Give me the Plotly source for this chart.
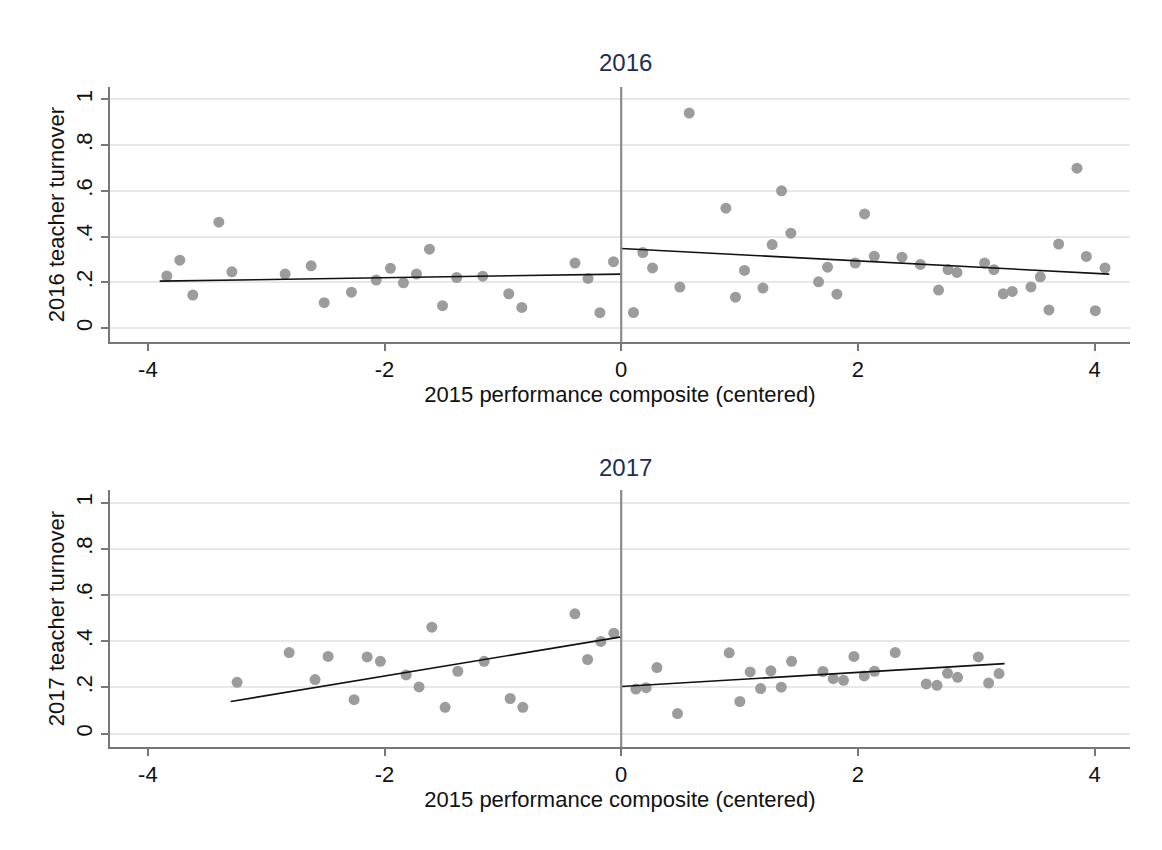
import plotly.graph_objects as go

# ---- data: 2016 panel ----
x16_left = [-3.84, -3.73, -3.62, -3.40, -3.29, -2.84, -2.62, -2.51, -2.28, -2.07, -1.95, -1.84,
            -1.73, -1.62, -1.51, -1.39, -1.17, -0.95, -0.84, -0.39, -0.28, -0.18, -0.065]
y16_left = [0.228, 0.297, 0.144, 0.463, 0.246, 0.236, 0.272, 0.111, 0.157, 0.210, 0.261, 0.198,
            0.236, 0.345, 0.098, 0.221, 0.227, 0.150, 0.090, 0.284, 0.217, 0.067, 0.290]
x16_right = [0.104, 0.183, 0.265, 0.496, 0.575, 0.885, 0.966, 1.042, 1.198, 1.276, 1.355, 1.434,
             1.668, 1.744, 1.823, 1.978, 2.057, 2.139, 2.373, 2.528, 2.682, 2.762, 2.838, 3.071,
             3.150, 3.229, 3.305, 3.463, 3.542, 3.615, 3.697, 3.852, 3.931, 4.007, 4.089]
y16_right = [0.068, 0.330, 0.263, 0.179, 0.940, 0.524, 0.135, 0.252, 0.175, 0.365, 0.600, 0.415,
             0.202, 0.266, 0.148, 0.284, 0.499, 0.314, 0.310, 0.278, 0.166, 0.256, 0.243, 0.284,
             0.255, 0.150, 0.160, 0.180, 0.224, 0.079, 0.367, 0.699, 0.313, 0.076, 0.263]
fit16_left_x = [-3.90, 0.0]
fit16_left_y = [0.205, 0.236]
fit16_right_x = [0.0, 4.125]
fit16_right_y = [0.348, 0.236]

# ---- data: 2017 panel ----
x17_left = [-3.246, -2.806, -2.587, -2.477, -2.257, -2.147, -2.035, -1.817, -1.708, -1.600,
            -1.488, -1.381, -1.158, -0.938, -0.831, -0.391, -0.284, -0.172, -0.062]
y17_left = [0.222, 0.351, 0.234, 0.334, 0.147, 0.332, 0.313, 0.254, 0.202, 0.461,
            0.114, 0.270, 0.313, 0.152, 0.114, 0.519, 0.321, 0.399, 0.435]
x17_right = [0.124, 0.211, 0.302, 0.476, 0.913, 1.003, 1.090, 1.178, 1.265, 1.353, 1.440, 1.705,
             1.792, 1.879, 1.967, 2.054, 2.141, 2.316, 2.578, 2.669, 2.758, 2.843, 3.018, 3.105, 3.193]
y17_right = [0.193, 0.199, 0.286, 0.087, 0.350, 0.139, 0.267, 0.195, 0.272, 0.201, 0.313, 0.269,
             0.238, 0.231, 0.334, 0.250, 0.270, 0.351, 0.215, 0.209, 0.261, 0.244, 0.332, 0.219, 0.260]
fit17_left_x = [-3.30, 0.0]
fit17_left_y = [0.139, 0.419]
fit17_right_x = [0.0, 3.24]
fit17_right_y = [0.204, 0.303]

x_tickvals = [-4, -2, 0, 2, 4]
x_ticktext = ["-4", "-2", "0", "2", "4"]
y_tickvals = [0, 0.2, 0.4, 0.6, 0.8, 1]
y_ticktext = ["0", ".2", ".4", ".6", ".8", "1"]

FONT = "Liberation Sans, Arial, Helvetica, sans-serif"
DOT = "#9c9c9c"
TXT = 22

fig = go.Figure()

def add_panel(xl, yl, xr, yr, flx, fly, frx, fry, xa, ya):
    for xs, ys in ((xl, yl), (xr, yr)):
        fig.add_trace(go.Scatter(x=xs, y=ys, mode="markers", xaxis=xa, yaxis=ya,
                                 marker=dict(color=DOT, size=11, line=dict(width=0)),
                                 showlegend=False, hoverinfo="skip"))
    for xs, ys in ((flx, fly), (frx, fry)):
        fig.add_trace(go.Scatter(x=xs, y=ys, mode="lines", xaxis=xa, yaxis=ya,
                                 line=dict(color="#111111", width=1.6),
                                 showlegend=False, hoverinfo="skip"))

add_panel(x16_left, y16_left, x16_right, y16_right,
          fit16_left_x, fit16_left_y, fit16_right_x, fit16_right_y, "x", "y")
add_panel(x17_left, y17_left, x17_right, y17_right,
          fit17_left_x, fit17_left_y, fit17_right_x, fit17_right_y, "x2", "y2")

W, H = 1162, 850
OFF = 8  # page body offset
xdom = [(110 - OFF) / W, (1130 - OFF) / W]
xrange_ = [-4.32, 4.30]

common_x = dict(range=xrange_, domain=xdom, tickvals=x_tickvals, ticktext=x_ticktext,
                showgrid=False, zeroline=False, showline=True, linecolor="#777777", linewidth=1.5,
                ticks="outside", ticklen=7, tickwidth=1.5, tickcolor="#777777",
                tickfont=dict(family=FONT, size=TXT, color="#111111"),
                title=dict(text="2015 performance composite (centered)",
                           font=dict(family=FONT, size=TXT, color="#111111"), standoff=0))
common_y = dict(tickvals=y_tickvals, ticktext=y_ticktext, tickangle=-90,
                showgrid=True, gridcolor="#e8e8e8", gridwidth=1.5, zeroline=False,
                showline=True, linecolor="#777777", linewidth=1.5,
                ticks="outside", ticklen=7, tickwidth=1.5, tickcolor="#777777",
                tickfont=dict(family=FONT, size=TXT, color="#111111"))

fig.update_layout(
    width=W, height=H, margin=dict(l=0, r=0, t=0, b=0),
    paper_bgcolor="white", plot_bgcolor="white",
    xaxis=dict(anchor="y", **common_x),
    xaxis2=dict(anchor="y2", **common_x),
    yaxis=dict(anchor="x", domain=[1 - (342 - OFF) / H, 1 - (87 - OFF) / H], range=[-0.061, 1.054],
               title=dict(text="2016 teacher turnover", font=dict(family=FONT, size=TXT, color="#111111"), standoff=2),
               **common_y),
    yaxis2=dict(anchor="x2", domain=[1 - (747 - OFF) / H, 1 - (490 - OFF) / H], range=[-0.058, 1.055],
                title=dict(text="2017 teacher turnover", font=dict(family=FONT, size=TXT, color="#111111"), standoff=2),
                **common_y),
    shapes=[
        dict(type="line", xref="x", yref="y domain", x0=0, x1=0, y0=0, y1=1,
             line=dict(color="#8a8a8a", width=2.2), layer="above"),
        dict(type="line", xref="x2", yref="y2 domain", x0=0, x1=0, y0=0, y1=1,
             line=dict(color="#8a8a8a", width=2.2), layer="above"),
    ],
    annotations=[
        dict(text="2016", x=(625 - OFF) / W, y=1 - (63 - OFF) / H, xref="paper", yref="paper", showarrow=False,
             font=dict(family=FONT, size=24, color="#1e2d55"), xanchor="center", yanchor="middle"),
        dict(text="2017", x=(625 - OFF) / W, y=1 - (467 - OFF) / H, xref="paper", yref="paper", showarrow=False,
             font=dict(family=FONT, size=24, color="#1e2d55"), xanchor="center", yanchor="middle"),
    ],
)

fig.write_html("out.html")
